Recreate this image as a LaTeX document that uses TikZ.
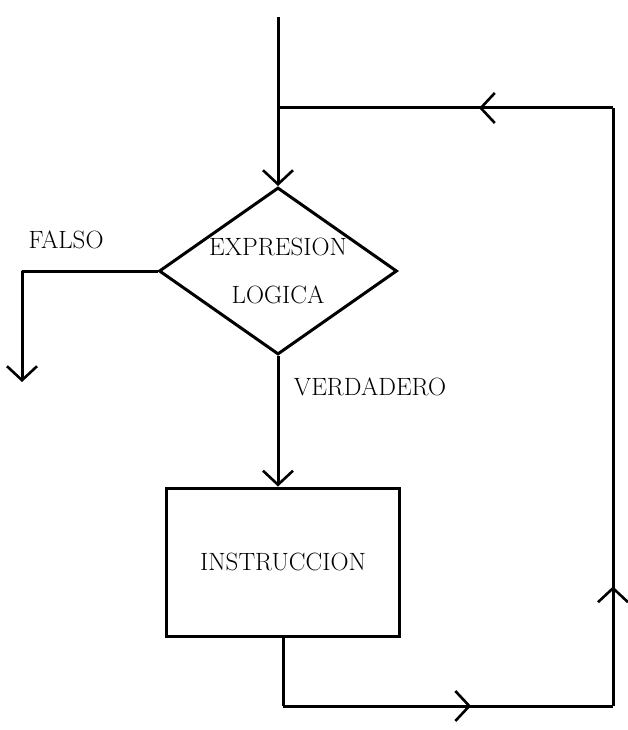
\documentclass[tikz,border=0pt]{standalone}
\usetikzlibrary{arrows.meta, positioning, shapes.geometric, decorations.markings}

\begin{document}
\begin{tikzpicture}[
  x=1pt, y=-1pt,
  every node/.style={font=\fontsize{25}{30}\selectfont},
  decision/.style={diamond, draw, line width=3pt, inner sep=-12pt, aspect=1.425,
                   minimum width=238pt, minimum height=167pt, align=center},
  process/.style={rectangle, draw, line width=3pt,
                  minimum width=233pt, minimum height=148pt},
  flow/.style={line width=3pt, line join=round,
               -{Straight Barb[length=14pt, width=30pt, line width=2.6pt]}},
  loopline/.style={line width=3pt},
  midarrow/.style={postaction={decorate}, decoration={markings,
               mark=at position #1 with {\arrow{Straight Barb[length=14pt, width=30pt, line width=2.6pt]}}}}
]
  \useasboundingbox (0,0) rectangle (627,730);

  \node[decision] (L0) at (278,271) {EXPRESION\\[18pt]LOGICA};
  \node[process]  (L1) at (283,562) {INSTRUCCION};

  \coordinate (top)   at (278,17);
  \coordinate (join)  at (278,108);
  \coordinate (ne)    at (613,108);
  \coordinate (se)    at (613,706);
  \coordinate (sw)    at (283,706);
  \coordinate (fcorn) at (22,271);
  \coordinate (fend)  at (22,382);

  \draw[flow] (top) -- (L0.north);
  \draw[flow] (L0.south) -- (L0.south |- L1.north);
  \node at (370,387) {VERDADERO};

  \draw[flow] (L0.west) -- (fcorn) -- (fend);
  \node at (66,240) {FALSO};

  % loop back to the condition
  \draw[loopline] (L1.south) -- (sw);
  \draw[loopline, midarrow=0.57] (sw) -- (se);
  \draw[loopline, midarrow=0.20] (se) -- (ne);
  \draw[loopline, midarrow=0.40] (ne) -- (join);
\end{tikzpicture}
\end{document}
